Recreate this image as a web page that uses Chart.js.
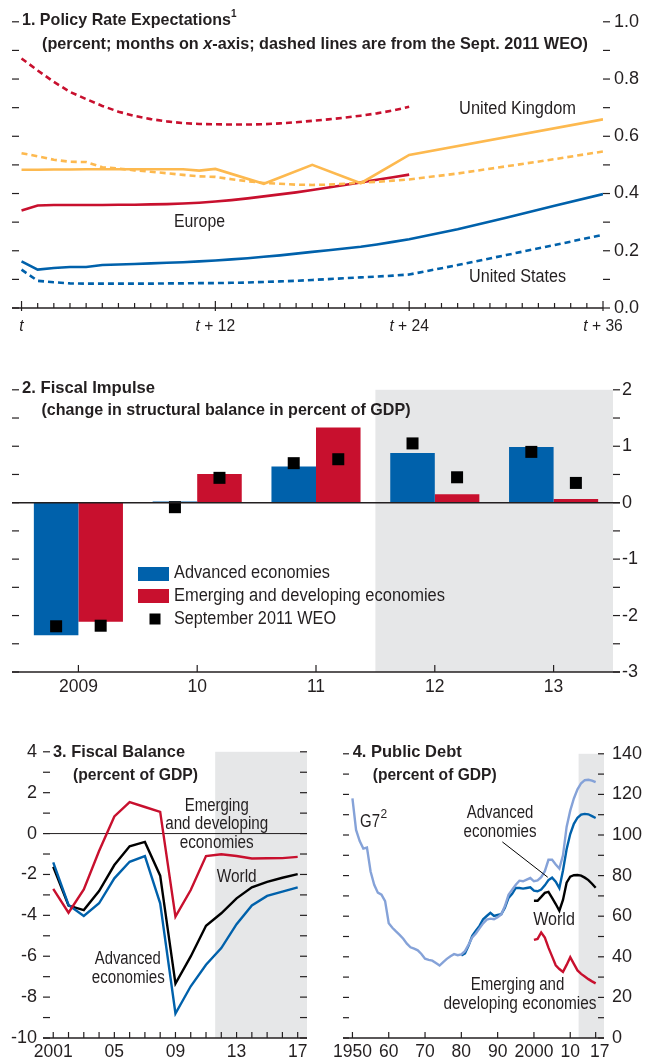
<!DOCTYPE html>
<html>
<head>
<meta charset="utf-8">
<script src="https://cdn.jsdelivr.net/npm/chart.js@4.4.1/dist/chart.umd.min.js"></script>
<style>
  body { margin: 0; background: #fff; width: 645px; height: 1061px; position: relative; overflow: hidden; }
  canvas { position: absolute; }
</style>
</head>
<body>
<canvas id="c1" width="645" height="345" style="left:0;top:0"></canvas>
<canvas id="c2" width="645" height="330" style="left:0;top:370px"></canvas>
<canvas id="c3" width="325" height="326" style="left:0;top:735px"></canvas>
<canvas id="c4" width="320" height="326" style="left:325px;top:735px"></canvas>
<script>
// ---- 1. Policy rate expectations (months ahead) ----
const m24 = [0,1,2,3,4,5,6,7,8,9,10,11,12,13,14,15,16,17,18,19,20,21,22,23,24];
const m36 = [...m24, 27, 30, 33, 36];
const ukMonths = [0,1,2,3,4,5,6,7,8,9,10,11,12,15,18,21,24,36];
const euroNow = [0.341,0.358,0.360,0.360,0.360,0.360,0.361,0.361,0.362,0.363,0.365,0.368,0.372,0.377,0.383,0.390,0.397,0.404,0.412,0.421,0.430,0.439,0.448,0.457,0.466];
const euroSep = [0.872,0.830,0.790,0.755,0.730,0.706,0.686,0.671,0.660,0.652,0.646,0.643,0.642,0.641,0.641,0.642,0.645,0.649,0.654,0.659,0.665,0.672,0.680,0.690,0.703];
const ukNow = [0.483,0.483,0.484,0.484,0.485,0.485,0.485,0.485,0.485,0.485,0.485,0.480,0.486,0.434,0.500,0.436,0.535,0.659];
const ukSep = [0.541,0.530,0.518,0.511,0.510,0.492,0.487,0.481,0.476,0.471,0.465,0.460,0.458,0.450,0.443,0.437,0.434,0.431,0.430,0.431,0.434,0.438,0.441,0.445,0.449,0.470,0.495,0.520,0.547];
const usNow = [0.163,0.134,0.140,0.143,0.143,0.150,0.152,0.154,0.156,0.158,0.160,0.163,0.166,0.170,0.174,0.179,0.184,0.190,0.196,0.202,0.208,0.214,0.222,0.231,0.240,0.275,0.315,0.357,0.398];
const usSep = [0.134,0.095,0.090,0.086,0.085,0.085,0.085,0.085,0.085,0.086,0.086,0.087,0.087,0.088,0.089,0.091,0.093,0.095,0.098,0.101,0.104,0.107,0.110,0.113,0.117,0.150,0.185,0.220,0.256];
const prTickMonths = [0, 12, 24, 36];
const prTickLabels = ['', ' + 12', ' + 24', ' + 36'];

// ---- 2. Fiscal impulse ----
const fiYears = ['2009', '10', '11', '12', '13'];
const fiAdv = [-2.35, 0.02, 0.64, 0.88, 0.985];
const fiEm = [-2.11, 0.51, 1.33, 0.15, 0.065];
const fiAdvSep = [-2.19, -0.08, 0.70, 1.05, 0.90];
const fiEmSep = [-2.18, 0.44, 0.77, 0.45, 0.35];

// ---- 3. Fiscal balance ----
const fbYears = [2001,2002,2003,2004,2005,2006,2007,2008,2009,2010,2011,2012,2013,2014,2015,2016,2017];
const fbAdv = [-1.41,-3.49,-4.03,-3.41,-2.19,-1.38,-1.10,-3.41,-8.80,-7.47,-6.42,-5.60,-4.43,-3.52,-3.05,-2.84,-2.63];
const fbWorld = [-1.62,-3.52,-3.74,-2.81,-1.54,-0.62,-0.41,-2.06,-7.34,-6.01,-4.51,-3.90,-3.17,-2.63,-2.36,-2.16,-1.98];
const fbEm = [-2.71,-3.87,-2.73,-0.85,0.84,1.54,1.30,1.06,-4.06,-2.76,-1.10,-1.01,-1.10,-1.22,-1.21,-1.20,-1.14];
const fbTickYears = [2001, 2005, 2009, 2013, 2017];
const fbTickLabels = ['2001', '05', '09', '13', '17'];

// ---- 4. Public debt ----
const range = (a, b) => Array.from({ length: b - a + 1 }, (_, i) => a + i);
const pdG7Years = range(1950, 2017);
const pdAdvYears = range(1980, 2017);
const pdNewYears = range(2000, 2017);
const pdG7 = [118,102.5,97,93.3,93.8,82,75.5,71.6,70.6,67.4,
  56.5,54.3,52.5,50.8,48.9,46.5,44.7,44,43.2,41.4,
  39.1,38.5,38.1,36.9,35.7,37.4,39,40.3,41.3,40.8,
  41.2,42.8,46,49.5,51.5,54,56.5,58.3,58.8,58.5,
  59.5,60.8,65,70.5,73,75.5,77.5,77.2,78,78.8,
  77.2,77.6,79.2,82.2,87.8,87.8,85.5,83.5,90,104,
  112,118,122.5,125.5,127,127.2,126.8,126];
const pdAdv = [40.6,41.7,45.5,50.3,52.8,55.2,58.5,60.1,61.7,60.1,
  60.6,61.0,64.2,69.0,71.0,73.9,73.9,73.6,73.9,74.2,
  72.6,72.3,73.1,75.2,77.8,79.0,77.0,73.8,82.5,93.0,
  100.5,105.5,108.5,110.0,110.4,110.2,109.3,108.4];
const pdWorld = [67.6,67.6,69.5,71.5,72.0,69.0,66.0,62.7,68.0,76.5,79.5,80.2,80.3,80.0,79.0,77.8,76.0,74.0];
const pdEm = [48.3,48.8,52.0,49.5,44.5,40.2,35.8,34.0,32.6,36.0,39.8,36.5,33.3,31.6,30.3,29.0,27.9,26.9];
const pdTickYears = [1950, 1960, 1970, 1980, 1990, 2000, 2010, 2017];
const pdTickLabels = ['1950', '60', '70', '80', '90', '2000', '10', '17'];

const INK = '#231f20';
const BLUE = '#0061ab';
const RED = '#c8102e';
const ORANGE = '#fdb94f';
const LIGHTBLUE = '#85a2d8';
const SHADE = '#e6e7e8';
const FONT = '"Liberation Sans", Arial, sans-serif';

const xy = (xs, ys) => xs.map((x, i) => ({ x, y: ys[i] }));

function fontOf(size, bold, italic) {
  return (italic ? 'italic ' : '') + (bold ? 'bold ' : '') + size + 'px ' + FONT;
}

// draws text segments [[text, italic]], squeezed to width w if given
function rich(ctx, parts, x, y, o = {}) {
  const size = o.size || 18;
  ctx.save();
  ctx.fillStyle = o.color || INK;
  ctx.textBaseline = 'middle';
  ctx.textAlign = 'left';
  let total = 0;
  const widths = parts.map(([t, it]) => {
    ctx.font = fontOf(size, o.bold, it);
    const w = ctx.measureText(t).width;
    total += w;
    return w;
  });
  const sx = o.w ? o.w / total : (o.sx || 1);
  let start = x;
  if (o.align === 'center') start = x - total * sx / 2;
  if (o.align === 'right') start = x - total * sx;
  ctx.translate(start, y);
  ctx.scale(sx, 1);
  let cx = 0;
  parts.forEach(([t, it], i) => {
    ctx.font = fontOf(size, o.bold, it);
    ctx.fillText(t, cx, 0);
    cx += widths[i];
  });
  ctx.restore();
}

function text(ctx, s, x, y, o = {}) {
  rich(ctx, [[s, o.italic]], x, y, o);
}

function line(ctx, x0, y0, x1, y1, lw) {
  ctx.lineWidth = lw || 1.2;
  ctx.beginPath();
  ctx.moveTo(x0, y0);
  ctx.lineTo(x1, y1);
  ctx.stroke();
}

function yTicks(ctx, scale, from, to, step, x0, x1) {
  for (let v = from; v <= to + 1e-9; v += step) {
    const py = scale.getPixelForValue(v);
    line(ctx, x0, py, x1, py);
  }
}

const baseOpts = {
  responsive: false,
  animation: false,
  devicePixelRatio: 1,
  plugins: { legend: { display: false }, tooltip: { enabled: false } },
  elements: { point: { radius: 0 }, line: { tension: 0, fill: false } },
};

function labelAxis(position, min, max, step, width, pad, fmt) {
  return {
    position, min, max,
    grid: { display: false, drawTicks: false },
    border: { display: false },
    ticks: {
      stepSize: step, padding: pad, color: INK,
      font: { family: FONT, size: 18 },
      callback: fmt || (v => String(v)),
    },
    afterFit: s => { s.width = width; },
  };
}

// ---------- Chart 1 ----------
const dash = [6, 4];
new Chart(document.getElementById('c1'), {
  type: 'line',
  data: {
    datasets: [
      { data: xy(m24, euroSep), borderColor: RED, borderDash: dash },
      { data: xy(m36, ukSep), borderColor: ORANGE, borderDash: dash },
      { data: xy(m36, usSep), borderColor: BLUE, borderDash: dash },
      { data: xy(ukMonths, ukNow), borderColor: ORANGE },
      { data: xy(m24, euroNow), borderColor: RED },
      { data: xy(m36, usNow), borderColor: BLUE },
    ],
  },
  options: {
    ...baseOpts,
    elements: { ...baseOpts.elements, line: { ...baseOpts.elements.line, borderWidth: 2.6 } },
    layout: { padding: { left: 12, top: 20, bottom: 37, right: 0 } },
    scales: {
      x: { type: 'linear', min: -0.59, max: 36, display: false },
      y: labelAxis('right', 0, 1, 0.2, 42, 11, v => v.toFixed(1)),
    },
  },
  plugins: [{
    id: 'deco1',
    afterDraw(chart) {
      const { ctx, chartArea: a, scales: { x, y } } = chart;
      ctx.save();
      ctx.strokeStyle = INK;
      line(ctx, a.left, a.bottom, a.right, a.bottom, 1.5);
      yTicks(ctx, y, 0, 1, 0.1, a.left, a.left + 7);
      yTicks(ctx, y, 0, 1, 0.1, a.right, a.right + 7);
      for (let m = 0; m <= 36; m++) {
        const px = x.getPixelForValue(m);
        const major = m % 12 === 0;
        line(ctx, px, a.bottom - (major ? 7 : 5), px, a.bottom + (major ? 3 : 0));
      }
      prTickMonths.forEach((m, i) => {
        const parts = prTickLabels[i] ? [['t', true], [prTickLabels[i], false]] : [['t', true]];
        rich(ctx, parts, x.getPixelForValue(m), 326, { size: 17, align: 'center', sx: 0.92 });
      });
      text(ctx, '1. Policy Rate Expectations', 22, 20, { bold: true, size: 17, w: 209 });
      text(ctx, '1', 231, 14, { bold: true, size: 10 });
      rich(ctx, [['(percent; months on ', false], ['x', true], ['-axis; dashed lines are from the Sept. 2011 WEO)', false]],
        42, 44, { bold: true, size: 17, w: 546 });
      text(ctx, 'United Kingdom', 517.5, 109, { align: 'center', w: 117 });
      text(ctx, 'Europe', 199.5, 222, { align: 'center', w: 51 });
      text(ctx, 'United States', 517.5, 277, { align: 'center', w: 97 });
      ctx.restore();
    },
  }],
});

// ---------- Chart 2 ----------
new Chart(document.getElementById('c2'), {
  type: 'bar',
  data: {
    labels: fiYears,
    datasets: [
      { data: fiAdv, backgroundColor: BLUE, categoryPercentage: 0.75, barPercentage: 1 },
      { data: fiEm, backgroundColor: RED, categoryPercentage: 0.75, barPercentage: 1 },
    ],
  },
  options: {
    ...baseOpts,
    layout: { padding: { left: 19, top: 18, bottom: 28, right: 0 } },
    scales: {
      x: { type: 'category', display: false, offset: true },
      y: labelAxis('right', -3, 2, 1, 32, 9),
    },
  },
  plugins: [{
    id: 'deco2',
    beforeDatasetsDraw(chart) {
      const { ctx, chartArea: a, scales: { x } } = chart;
      ctx.save();
      ctx.fillStyle = SHADE;
      // projection years start halfway between 11 and 12
      const sx = (x.getPixelForValue(2) + x.getPixelForValue(3)) / 2;
      ctx.fillRect(sx, a.top, a.right - sx, a.bottom - a.top);
      ctx.restore();
    },
    afterDatasetsDraw(chart) {
      const { ctx, scales: { y } } = chart;
      ctx.save();
      ctx.fillStyle = '#000';
      // September 2011 WEO markers, centred on each bar
      [fiAdvSep, fiEmSep].forEach((vals, d) => {
        const bars = chart.getDatasetMeta(d).data;
        vals.forEach((v, i) => {
          const py = y.getPixelForValue(v);
          ctx.fillRect(bars[i].x - 6, py - 6, 12, 12);
        });
      });
      ctx.restore();
    },
    afterDraw(chart) {
      const { ctx, chartArea: a, scales: { x, y } } = chart;
      ctx.save();
      ctx.strokeStyle = INK;
      line(ctx, a.left - 7, y.getPixelForValue(0), a.right + 7, y.getPixelForValue(0), 1.5);
      line(ctx, a.left - 7, a.bottom, a.right + 7, a.bottom, 1.5);
      yTicks(ctx, y, -3, 2, 0.5, a.left - 7, a.left);
      yTicks(ctx, y, -3, 2, 0.5, a.right, a.right + 7);
      fiYears.forEach((lab, i) => {
        const px = x.getPixelForValue(i);
        line(ctx, px, a.bottom - 7, px, a.bottom);
        text(ctx, lab, px, 317, { align: 'center', size: 17.5 });
      });
      text(ctx, '2. Fiscal Impulse', 22, 18, { bold: true, size: 17, w: 133 });
      text(ctx, '(change in structural balance in percent of GDP)', 41.5, 40, { bold: true, size: 17, w: 369 });
      ctx.fillStyle = BLUE; ctx.fillRect(138, 197, 31, 14);
      ctx.fillStyle = RED; ctx.fillRect(138, 219, 31, 14);
      ctx.fillStyle = '#000'; ctx.fillRect(149.5, 243.5, 11, 11);
      text(ctx, 'Advanced economies', 174, 203, { w: 156 });
      text(ctx, 'Emerging and developing economies', 174, 226, { w: 271 });
      text(ctx, 'September 2011 WEO', 174, 249, { w: 162 });
      ctx.restore();
    },
  }],
});

// ---------- Chart 3 ----------
new Chart(document.getElementById('c3'), {
  type: 'line',
  data: {
    datasets: [
      { data: xy(fbYears, fbEm), borderColor: RED },
      { data: xy(fbYears, fbAdv), borderColor: BLUE },
      { data: xy(fbYears, fbWorld), borderColor: '#000' },
    ],
  },
  options: {
    ...baseOpts,
    elements: { ...baseOpts.elements, line: { ...baseOpts.elements.line, borderWidth: 2.4 } },
    layout: { padding: { left: 0, top: 16, bottom: 23, right: 18 } },
    scales: {
      x: { type: 'linear', min: 2000.33, max: 2017.61, display: false },
      y: labelAxis('left', -10, 4, 2, 43, 6),
    },
  },
  plugins: [{
    id: 'deco3',
    beforeDatasetsDraw(chart) {
      const { ctx, chartArea: a, scales: { x, y } } = chart;
      ctx.save();
      ctx.fillStyle = SHADE;
      const sx = x.getPixelForValue(2011.6);
      ctx.fillRect(sx, a.top, a.right - sx, a.bottom - a.top);
      ctx.strokeStyle = INK;
      line(ctx, a.left, y.getPixelForValue(0), a.right, y.getPixelForValue(0), 1);
      text(ctx, 'Emerging', 216.7, 71, { align: 'center', w: 64 });
      text(ctx, 'and developing', 216.7, 89, { align: 'center', w: 103 });
      text(ctx, 'economies', 216.7, 108, { align: 'center', w: 74 });
      text(ctx, 'World', 236.7, 142, { align: 'center', w: 40 });
      text(ctx, 'Advanced', 127.8, 224, { align: 'center', w: 66 });
      text(ctx, 'economies', 128.3, 243, { align: 'center', w: 73 });
      ctx.restore();
    },
    afterDraw(chart) {
      const { ctx, chartArea: a, scales: { x, y } } = chart;
      ctx.save();
      ctx.strokeStyle = INK;
      line(ctx, a.left, a.bottom, a.right, a.bottom, 1.5);
      yTicks(ctx, y, -10, 4, 1, a.left, a.left + 7);
      yTicks(ctx, y, -10, 4, 1, a.right - 7, a.right);
      fbYears.forEach(yr => {
        const px = x.getPixelForValue(yr);
        line(ctx, px, a.bottom - 6, px, a.bottom);
      });
      fbTickYears.forEach((yr, i) => text(ctx, fbTickLabels[i], x.getPixelForValue(yr), 317, { align: 'center', size: 17.5 }));
      text(ctx, '3. Fiscal Balance', 53, 17, { bold: true, size: 17, w: 132 });
      text(ctx, '(percent of GDP)', 73, 40, { bold: true, size: 17, w: 125 });
      ctx.restore();
    },
  }],
});

// ---------- Chart 4 ----------
new Chart(document.getElementById('c4'), {
  type: 'line',
  data: {
    datasets: [
      { data: xy(pdG7Years, pdG7), borderColor: LIGHTBLUE },
      { data: xy(pdAdvYears, pdAdv), borderColor: BLUE },
      { data: xy(pdNewYears, pdWorld), borderColor: '#000' },
      { data: xy(pdNewYears, pdEm), borderColor: RED },
    ],
  },
  options: {
    ...baseOpts,
    elements: { ...baseOpts.elements, line: { ...baseOpts.elements.line, borderWidth: 2.4 } },
    layout: { padding: { left: 18, top: 16, bottom: 23, right: 0 } },
    scales: {
      x: { type: 'linear', min: 1947.4, max: 2019.3, display: false },
      y: labelAxis('right', 0, 140, 20, 41, 8),
    },
  },
  plugins: [{
    id: 'deco4',
    beforeDatasetsDraw(chart) {
      const { ctx, chartArea: a, scales: { x } } = chart;
      ctx.save();
      ctx.fillStyle = SHADE;
      const sx = x.getPixelForValue(2012.3);
      ctx.fillRect(sx, a.top, a.right - sx, a.bottom - a.top);
      ctx.restore();
    },
    afterDraw(chart) {
      const { ctx, chartArea: a, scales: { x, y } } = chart;
      ctx.save();
      ctx.strokeStyle = INK;
      line(ctx, a.left, a.bottom, a.right, a.bottom, 1.5);
      yTicks(ctx, y, 0, 140, 10, a.left, a.left + 6);
      yTicks(ctx, y, 0, 140, 10, a.right - 6, a.right);
      pdTickYears.forEach((yr, i) => {
        const px = x.getPixelForValue(yr);
        line(ctx, px, a.bottom - 6, px, a.bottom);
        text(ctx, pdTickLabels[i], px + (yr === 2017 ? 4 : 0), 317, { align: 'center', size: 17.5 });
      });
      ctx.strokeStyle = '#000';
      line(ctx, x.getPixelForValue(1991.3), y.getPixelForValue(96.6), x.getPixelForValue(2003.8), y.getPixelForValue(79.2), 1);
      text(ctx, '4. Public Debt', 27.7, 17, { bold: true, size: 17, w: 109 });
      text(ctx, '(percent of GDP)', 47.7, 40, { bold: true, size: 17, w: 124 });
      text(ctx, 'G7', 35, 87, { w: 20 });
      text(ctx, '2', 55.5, 80, { size: 12 });
      text(ctx, 'Advanced', 175, 78, { align: 'center', w: 66.7 });
      text(ctx, 'economies', 175, 97, { align: 'center', w: 73 });
      text(ctx, 'World', 229, 185, { align: 'center', w: 41.7 });
      text(ctx, 'Emerging and', 192.5, 250, { align: 'center', w: 93.7 });
      text(ctx, 'developing economies', 195, 269, { align: 'center', w: 153 });
      ctx.restore();
    },
  }],
});
</script>
</body>
</html>
